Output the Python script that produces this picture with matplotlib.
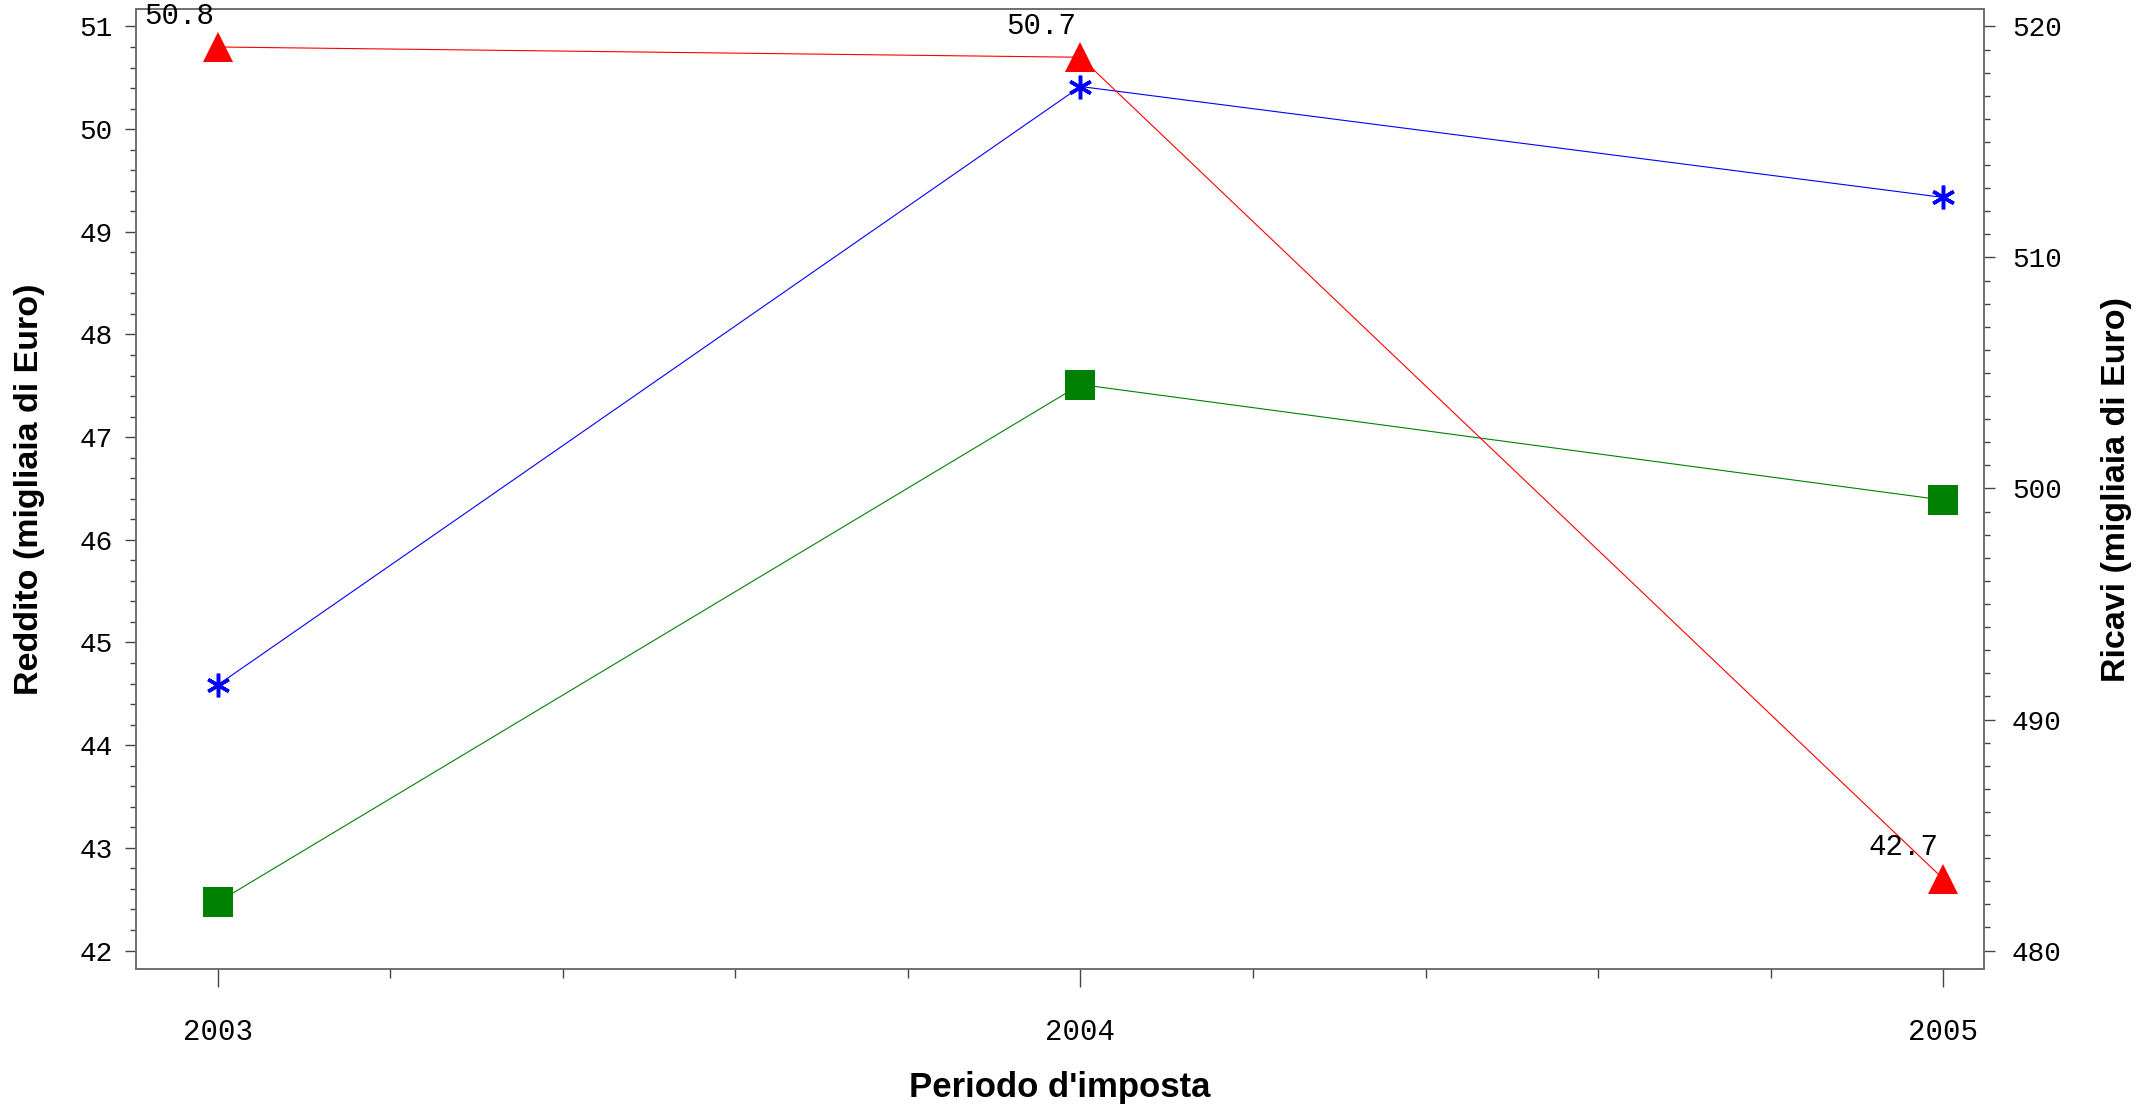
import matplotlib
matplotlib.use("Agg")
from matplotlib import pyplot as plt
from matplotlib.ticker import MultipleLocator
import numpy as np

# periods
anni = [2003, 2004, 2005]

# Reddito (left axis) - red triangles, labelled
reddito = [50.8, 50.7, 42.7]
reddito_lab = ["50.8", "50.7", "42.7"]

# Ricavi (right axis)
ricavi_blu = [491.5, 517.4, 512.6]
ricavi_verde = [482.1, 504.5, 499.5]

W, H = 2149, 1109
fig = plt.figure(figsize=(W / 100, H / 100), dpi=100)
ax = fig.add_axes([136 / W, 1 - 969 / H, (1984 - 136) / W, (969 - 9) / H])
ax2 = ax.twinx()

mono = "Liberation Mono"
spine_col = "#6e6e6e"

# right axis series first so red stays on top
ax2.plot(anni, ricavi_verde, color="green", lw=0.8, marker="s", ms=21.6,
         markeredgewidth=0, zorder=3)
ax2.plot(anni, ricavi_blu, color="blue", lw=0.8, marker=(6, 2, 0), ms=17,
         markeredgewidth=2.5, zorder=3)

ax.plot(anni, reddito, color="red", lw=0.8, marker="^", ms=21.6,
        markeredgewidth=0, zorder=4)
for xv, yv, t in zip(anni, reddito, reddito_lab):
    ax.annotate(t, (xv, yv), xytext=(-3, 12.5), textcoords="offset points",
                ha="right", va="bottom", fontsize=21, family=mono, zorder=5)
ax.set_zorder(ax2.get_zorder() + 1)
ax.patch.set_visible(False)

ax.set_xlim(2002.905, 2005.0475)
ax.set_ylim(41.82, 51.17)
ax2.set_ylim(480 + (41.82 - 42) * 40 / 9, 480 + (51.17 - 42) * 40 / 9)

ax.set_xticks(anni)
ax.set_xticklabels([str(a) for a in anni])
ax.xaxis.set_minor_locator(MultipleLocator(0.2))
ax.set_yticks(np.arange(42, 52, 1))
ax.yaxis.set_minor_locator(MultipleLocator(0.2))
ax2.set_yticks(np.arange(480, 521, 10))
ax2.yaxis.set_minor_locator(MultipleLocator(1))

for a in (ax, ax2):
    for s in a.spines.values():
        s.set_color(spine_col)
        s.set_linewidth(1.2)

ax.tick_params(axis="y", which="major", length=8, width=1, color="#444444",
               pad=9, labelsize=20)
ax.tick_params(axis="y", which="minor", length=4.3, width=1, color="#444444")
ax.tick_params(axis="x", which="major", length=13, width=1, color="#444444",
               pad=22, labelsize=21)
ax.tick_params(axis="x", which="minor", length=6.5, width=1, color="#444444")
ax2.tick_params(axis="y", which="major", length=8, width=1, color="#444444",
                pad=12, labelsize=20)
ax2.tick_params(axis="y", which="minor", length=4.3, width=1, color="#444444")

for lab in ax.get_xticklabels() + ax.get_yticklabels() + ax2.get_yticklabels():
    lab.set_family(mono)

fig.text(30 / W, 1 - 489 / H, "Reddito (migliaia di Euro)", rotation=90,
         ha="center", va="center", fontsize=24.5, fontweight="bold",
         family="Liberation Sans")
fig.text(2117 / W, 1 - 489 / H, "Ricavi (migliaia di Euro)", rotation=90,
         ha="center", va="center", fontsize=24.5, fontweight="bold",
         family="Liberation Sans")
fig.text((136 + 0.5 * 1848) / W, 1 - 1087 / H, "Periodo d'imposta",
         ha="center", va="center", fontsize=25, fontweight="bold",
         family="Liberation Sans")

fig.savefig("out.png", dpi=100)
